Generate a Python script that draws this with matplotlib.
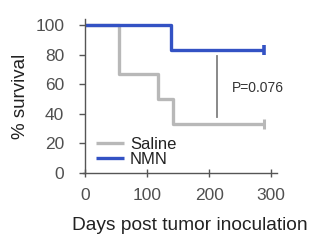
import matplotlib.pyplot as plt

plt.rcParams['font.family'] = ['Liberation Sans', 'DejaVu Sans']

# step survival curves (day, % survival)
saline_days = [0, 55, 118, 141, 288]
saline_surv = [100, 66.7, 50, 33.3, 33.3]
nmn_days = [0, 138, 288]
nmn_surv = [100, 83.3, 83.3]

# censor marks at the end of follow-up
saline_cens = [288]
saline_cens_y = [33.3]
nmn_cens = [288]
nmn_cens_y = [83.3]

# bracket for the p-value
bracket_x = [212, 212]
bracket_y = [38, 79]
p_text = "P=0.076"

xticks = [0, 100, 200, 300]
yticks = [0, 20, 40, 60, 80, 100]

gray = '#b8b8b8'
blue = '#3352c4'
axcol = '#555555'

fig = plt.figure(figsize=(3.35, 2.5), dpi=100)
ax = fig.add_axes([0.254, 0.309, 0.574, 0.614])

ax.step(saline_days, saline_surv, where='post', color=gray, lw=2.4, label='Saline', solid_capstyle='butt')
ax.step(nmn_days, nmn_surv, where='post', color=blue, lw=2.4, label='NMN', solid_capstyle='butt')
ax.plot(saline_cens, saline_cens_y, marker='|', ms=7, mew=2.2, color=gray, ls='none')
ax.plot(nmn_cens, nmn_cens_y, marker='|', ms=7, mew=2.6, color=blue, ls='none')

ax.plot(bracket_x, bracket_y, color='#808080', lw=1.3)
ax.text(237, 57.5, p_text, fontsize=10, color='#333333', va='center', ha='left')

ax.set_xlim(0, 310)
ax.set_ylim(0, 104)
ax.set_xticks(xticks)
ax.set_yticks(yticks)
ax.tick_params(axis='x', direction='inout', length=6, width=1, color=axcol,
               labelsize=12.5, labelcolor='#505050', pad=8)
ax.tick_params(axis='y', direction='out', length=4, width=1, color=axcol,
               labelsize=12.5, labelcolor='#505050', pad=11)
for s in ['top', 'right']:
    ax.spines[s].set_visible(False)
for s in ['left', 'bottom']:
    ax.spines[s].set_color(axcol)
    ax.spines[s].set_linewidth(1)
ax.spines['bottom'].set_bounds(-3, 310)

ax.set_xlabel('Days post tumor inoculation', fontsize=13.8, color='#222222')
ax.xaxis.set_label_coords(0.544, -0.29)
ax.set_ylabel('% survival', fontsize=13.5, color='#222222', labelpad=4.5)

leg = ax.legend(loc='lower left', bbox_to_anchor=(0.056, 0.04), frameon=False,
                fontsize=12, handlelength=1.7, handletextpad=0.35,
                labelspacing=0.0, borderaxespad=0.0, borderpad=0.0)
for t in leg.get_texts():
    t.set_color('#222222')

fig.savefig('out.png', dpi=100)
